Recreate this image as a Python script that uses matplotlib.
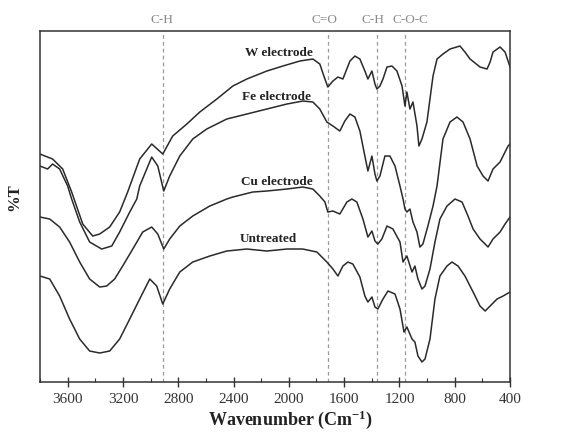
import matplotlib
matplotlib.use("Agg")
import matplotlib.pyplot as plt
import matplotlib.transforms as mtransforms
from matplotlib.ticker import MultipleLocator

# wavenumber (cm-1) and %T (arbitrary units, offset curves)
w_wn = [3800, 3709, 3636, 3571, 3491, 3419, 3368, 3296, 3224, 3166, 3079, 2992, 2912,
        2840, 2738, 2644, 2521, 2405, 2304, 2159, 2043, 1920, 1826, 1776, 1739, 1718,
        1681, 1645, 1609, 1558, 1522, 1486, 1450, 1428, 1399, 1377, 1363, 1341, 1319,
        1290, 1254, 1218, 1181, 1160, 1146, 1124, 1102, 1073, 1059, 1037, 1001, 957,
        928, 885, 834, 762, 726, 689, 617, 566, 544, 523, 472, 436, 414, 400]
w_t = [228, 223, 213, 190, 158, 146, 148, 155, 170, 190, 223, 238, 228,
       246, 258, 270, 283, 296, 303, 311, 316, 321, 323, 318, 303, 295,
       301, 305, 303, 321, 326, 323, 311, 303, 311, 298, 293, 296, 303,
       315, 316, 311, 296, 276, 290, 273, 280, 256, 236, 243, 260, 306,
       323, 328, 333, 336, 330, 323, 315, 313, 320, 330, 335, 330, 321, 315]

fe_wn = [3800, 3745, 3709, 3658, 3600, 3571, 3513, 3441, 3354, 3281, 3224, 3151, 3100,
         3079, 2992, 2948, 2905, 2862, 2789, 2695, 2594, 2449, 2304, 2159, 2014, 1899,
         1826, 1776, 1725, 1681, 1631, 1595, 1558, 1522, 1486, 1450, 1428, 1399, 1377,
         1363, 1341, 1305, 1269, 1232, 1196, 1174, 1160, 1146, 1124, 1102, 1073, 1052,
         1030, 994, 957, 928, 885, 834, 784, 740, 689, 638, 595, 559, 523, 472, 436,
         414, 400]
fe_t = [216, 213, 218, 213, 196, 183, 160, 140, 133, 136, 150, 170, 183,
        196, 225, 216, 191, 206, 226, 243, 253, 263, 268, 273, 278, 281,
        280, 273, 260, 256, 251, 261, 268, 265, 251, 226, 211, 226, 208,
        201, 206, 226, 226, 216, 196, 183, 173, 170, 173, 160, 150, 135,
        138, 156, 176, 196, 243, 260, 265, 260, 243, 216, 206, 201, 213, 220, 230,
        236, 238]

cu_wn = [3800, 3730, 3658, 3586, 3513, 3441, 3368, 3318, 3260, 3202, 3129, 3057, 2992,
         2948, 2905, 2862, 2789, 2695, 2572, 2449, 2405, 2261, 2159, 2014, 1899, 1826,
         1776, 1739, 1718, 1681, 1631, 1580, 1544, 1508, 1464, 1428, 1399, 1377, 1356,
         1327, 1290, 1247, 1196, 1174, 1146, 1109, 1088, 1066, 1037, 1015, 979, 943,
         907, 856, 798, 747, 704, 667, 617, 580, 559, 523, 472, 436, 400]
cu_t = [165, 163, 155, 140, 120, 103, 95, 96, 103, 116, 133, 150, 155,
        148, 133, 143, 156, 166, 176, 183, 185, 190, 191, 193, 195, 193,
        186, 180, 170, 171, 168, 180, 183, 180, 163, 145, 151, 141, 138,
        143, 156, 153, 140, 120, 126, 110, 116, 103, 93, 96, 113, 140,
        163, 176, 183, 180, 166, 153, 143, 138, 135, 143, 150, 158, 165]

un_wn = [3800, 3730, 3658, 3586, 3513, 3441, 3368, 3296, 3224, 3151, 3079, 3006, 2956,
         2912, 2862, 2789, 2695, 2572, 2449, 2304, 2159, 2014, 1899, 1797, 1725, 1681,
         1645, 1609, 1573, 1537, 1486, 1450, 1428, 1399, 1377, 1356, 1319, 1283, 1232,
         1196, 1167, 1146, 1109, 1088, 1066, 1037, 1015, 979, 943, 907, 856, 820, 776,
         726, 667, 617, 580, 544, 494, 450, 400]
un_t = [106, 103, 86, 63, 43, 31, 29, 31, 43, 63, 83, 103, 96,
        78, 93, 110, 120, 126, 131, 133, 131, 133, 133, 130, 120, 113,
        106, 116, 120, 118, 105, 86, 80, 85, 75, 73, 83, 91, 88,
        73, 50, 55, 43, 40, 26, 20, 23, 43, 83, 106, 116, 120, 116,
        106, 90, 76, 71, 76, 83, 86, 90]

curve_labels = ["W electrode", "Fe electrode", "Cu electrode", "Untreated"]
label_pos = [(2070, 330), (2090, 286), (2085, 201), (2150, 144)]

peak_names = ["C-H", "C=O", "C-H", "C-O-C"]
peak_wn = [2910, 1720, 1365, 1160]
peak_text_wn = [2920, 1740, 1395, 1120]

plt.rcParams["font.family"] = ["Liberation Serif", "DejaVu Serif"]
plt.rcParams["mathtext.fontset"] = "custom"
plt.rcParams["mathtext.rm"] = "Liberation Serif:bold"
plt.rcParams["mathtext.bf"] = "Liberation Serif:bold"
plt.rcParams["mathtext.default"] = "bf"

fig = plt.figure(figsize=(5.62, 4.35), dpi=100)
ax = fig.add_axes([0.0712, 0.1195, 0.8363, 0.8069])

for wn, t in [(w_wn, w_t), (fe_wn, fe_t), (cu_wn, cu_t), (un_wn, un_t)]:
    ax.plot(wn, t, color="#2a2a2a", lw=1.1)

for p in peak_wn:
    ax.axvline(p, color="#9a9a9a", lw=0.9, ls=(0, (3, 2.5)), zorder=0)

trans = mtransforms.blended_transform_factory(ax.transData, ax.transAxes)
for name, x in zip(peak_names, peak_text_wn):
    ax.text(x, 1.034, name, transform=trans, ha="center", va="center",
            fontsize=9.5, color="#8a8a8a")

for lab, (x, y) in zip(curve_labels, label_pos):
    ax.text(x, y, lab, ha="center", va="center", fontsize=9.5,
            fontweight="bold", color="#222222")

ax.set_xlim(3800, 400)
ax.set_ylim(0, 351)
ax.xaxis.set_major_locator(MultipleLocator(400))
ax.xaxis.set_minor_locator(MultipleLocator(200))
ax.set_yticks([])
ax.tick_params(axis="x", which="major", direction="inout", length=7, width=1,
               labelsize=11, colors="#333333", pad=4)
ax.tick_params(axis="x", which="minor", direction="in", length=3, width=0.8,
               colors="#333333")
for s in ax.spines.values():
    s.set_color("#333333")
    s.set_linewidth(1.1)

ax.set_xlabel("Wavenumber (Cm$^{-1}$)", fontsize=13, fontweight="bold",
              color="#222222")
ax.xaxis.set_label_coords(0.532, -0.072)
ax.set_ylabel("%T", fontsize=12, fontweight="bold", color="#222222")
ax.yaxis.set_label_coords(-0.038, 0.53)

fig.savefig("out.png", dpi=100)
